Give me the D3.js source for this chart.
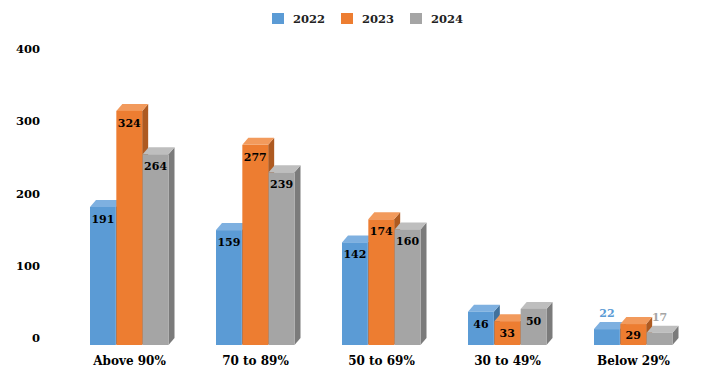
<!DOCTYPE html>
<html><head><meta charset="utf-8">
<script src="https://cdn.jsdelivr.net/npm/d3@7"></script>
<style>body{margin:0;background:#fff}svg{display:block}text{font-family:"DejaVu Serif",Georgia,serif;font-weight:bold}</style>
</head><body><svg id="c" width="719" height="392"></svg>
<script>
const categories = ["Above 90%","70 to 89%","50 to 69%","30 to 49%","Below 29%"];
const seriesNames = ["2022","2023","2024"];
const v2022 = [191,159,142,46,22];
const v2023 = [324,277,174,33,29];
const v2024 = [264,239,160,50,17];
const yTicks = [0,100,200,300,400];

const values = [v2022, v2023, v2024];
const front = ["#5B9BD5","#ED7D31","#A5A5A5"];
const topC = ["#7EB0E0","#F29A5C","#BEBEBE"];
const sideC = ["#41719C","#AE5A21","#7B7B7B"];
const labelOutside = ["#5B9BD5", null, "#A5A5A5"];

const svg = d3.select("#c");
const x = d3.scaleBand().domain(categories).range([66.5,696.5]);
const xs = d3.scaleBand().domain(seriesNames).range([0,79]);
const y = d3.scaleLinear().domain([0,400]).range([345,56]);
const dx = 6, dy = 7;

// y tick labels
svg.append("g").selectAll("text").data(yTicks).join("text")
  .attr("x",40).attr("y",d=>y(d)-7).attr("dy","0.35em")
  .attr("text-anchor","end").attr("font-size",11.5).attr("fill","#000")
  .text(d=>d);

// x labels
svg.append("g").selectAll("text").data(categories).join("text")
  .attr("x",d=>x(d)+x.bandwidth()/2).attr("y",361).attr("dy","0.35em")
  .attr("text-anchor","middle").attr("font-size",12).attr("fill","#000")
  .text(d=>d);

const bars = [];
categories.forEach((c,ci)=>{
  seriesNames.forEach((s,si)=>{
    const x0 = x(c) + x.bandwidth()/2 - 39.5 + xs(s);
    bars.push({c, s, si, v: values[si][ci], x0, w: xs.bandwidth()-0.5});
  });
});

const g = svg.append("g");
bars.forEach(b=>{
  const yt = y(b.v), yb = y(0), x1 = b.x0 + b.w;
  g.append("path").attr("fill",sideC[b.si])
    .attr("d",`M${x1},${yt}L${x1+dx},${yt-dy}L${x1+dx},${yb-dy}L${x1},${yb}Z`);
  g.append("path").attr("fill",topC[b.si])
    .attr("d",`M${b.x0},${yt}L${b.x0+dx},${yt-dy}L${x1+dx},${yt-dy}L${x1},${yt}Z`);
  g.append("rect").attr("fill",front[b.si])
    .attr("x",b.x0).attr("y",yt).attr("width",b.w).attr("height",yb-yt);
});

// value labels
svg.append("g").selectAll("text").data(bars).join("text")
  .attr("x",b=>b.x0+b.w/2)
  .attr("y",b=>{
    const h = y(0)-y(b.v);
    if (h < 20 && labelOutside[b.si]) return y(b.v)-16;
    return Math.min(y(b.v)+12, 335);
  })
  .attr("dy","0.35em").attr("text-anchor","middle").attr("font-size",11)
  .attr("fill",b=>{
    const h = y(0)-y(b.v);
    return (h < 20 && labelOutside[b.si]) ? labelOutside[b.si] : "#000";
  })
  .text(b=>b.v);

// legend
const lg = svg.append("g");
const lx = [272,341,410];
seriesNames.forEach((s,i)=>{
  lg.append("rect").attr("x",lx[i]).attr("y",13).attr("width",12).attr("height",11).attr("fill",front[i]);
  lg.append("text").attr("x",lx[i]+21).attr("y",19).attr("dy","0.35em")
    .attr("font-size",11.5).attr("fill","#222").text(s);
});
</script></body></html>
